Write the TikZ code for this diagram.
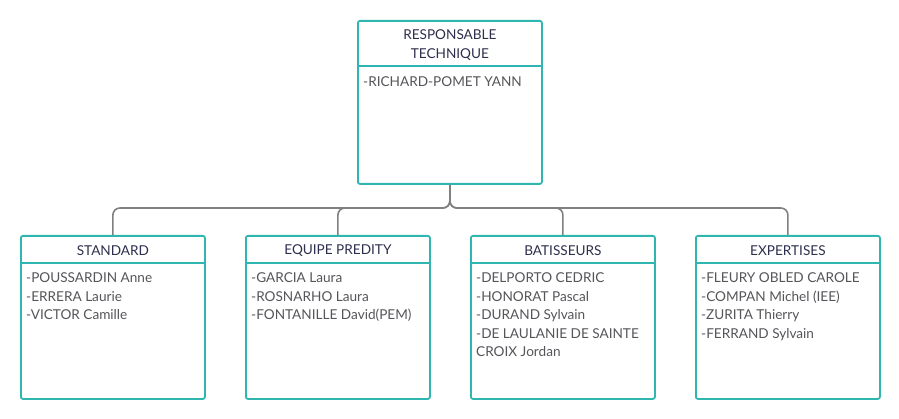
\documentclass[tikz,border=0pt]{standalone}
\usepackage{fontspec}
\setmainfont{Lato}
\usetikzlibrary{calc}
\usetikzlibrary{positioning}

\definecolor{boxteal}{RGB}{48,182,176}
\definecolor{headnavy}{RGB}{46,46,78}
\definecolor{listgray}{RGB}{85,85,90}
\definecolor{linkgray}{RGB}{128,128,128}

\begin{document}
\begin{tikzpicture} [x=1pt, y=-1pt,
  box/.style={draw=boxteal, line width=1.8pt, rounded corners=2pt, fill=white, minimum width=184pt, minimum height=163pt, inner sep=0pt, anchor=north west},
  head/.style={font=\fontsize{13.6}{18.5}\selectfont, text=headnavy, align=center, inner sep=0pt},
  list/.style={font=\fontsize{13.6}{18.5}\selectfont, text=listgray, align=left, anchor=north west, inner sep=0pt},
  link/.style={draw=linkgray, line width=1.6pt, rounded corners=7pt}]

\useasboundingbox (0,0) rectangle (899,419);

% top box
\node[box] (resp) at (357,20) {};
\draw[boxteal, line width=1.8pt] ($(resp.north west)+(0,46)$) -- ($(resp.north east)+(0,46)$);
\node[head] (resphead) at ($(resp.north)+(0,25)$) {RESPONSABLE\\TECHNIQUE};
\node[list] (resplist) at ($(resp.north west)+(6,56.5)$) {-RICHARD-POMET YANN};

% team boxes
\node[box] (std) at (20,235) {};
\node[box] (equ) at (245,235) {};
\node[box] (bat) at (470,235) {};
\node[box] (exp) at (695,235) {};

\draw[boxteal, line width=1.8pt] ($(std.north west)+(0,28)$) -- ($(std.north east)+(0,28)$);
\draw[boxteal, line width=1.8pt] ($(equ.north west)+(0,28)$) -- ($(equ.north east)+(0,28)$);
\draw[boxteal, line width=1.8pt] ($(bat.north west)+(0,28)$) -- ($(bat.north east)+(0,28)$);
\draw[boxteal, line width=1.8pt] ($(exp.north west)+(0,28)$) -- ($(exp.north east)+(0,28)$);

\node[head] (stdhead) at ($(std.north)+(0,15.5)$) {STANDARD};
\node[head] (equhead) at ($(equ.north)+(0,15.5)$) {EQUIPE PREDITY};
\node[head] (bathead) at ($(bat.north)+(0,15.5)$) {BATISSEURS};
\node[head] (exphead) at ($(exp.north)+(0,15.5)$) {EXPERTISES};

\node[list] (stdlist) at ($(std.north west)+(6,37.5)$) {-POUSSARDIN Anne\\-ERRERA Laurie\\-VICTOR Camille};
\node[list] (equlist) at ($(equ.north west)+(6,37.5)$) {-GARCIA Laura\\-ROSNARHO Laura\\-FONTANILLE David(PEM)};
\node[list] (batlist) at ($(bat.north west)+(6,37.5)$) {-DELPORTO CEDRIC\\-HONORAT Pascal\\-DURAND Sylvain\\-DE LAULANIE DE SAINTE\\CROIX Jordan};
\node[list] (explist) at ($(exp.north west)+(6,37.5)$) {-FLEURY OBLED CAROLE\\-COMPAN Michel (IEE)\\-ZURITA Thierry\\-FERRAND Sylvain};

% links
\draw[link] (resp.south) |- ($(std.north)+(0,-27)$) -- (std.north);
\draw[link] (resp.south) |- ($(equ.north)+(0,-27)$) -- (equ.north);
\draw[link] (resp.south) |- ($(bat.north)+(0,-27)$) -- (bat.north);
\draw[link] (resp.south) |- ($(exp.north)+(0,-27)$) -- (exp.north);

\end{tikzpicture}
\end{document}
